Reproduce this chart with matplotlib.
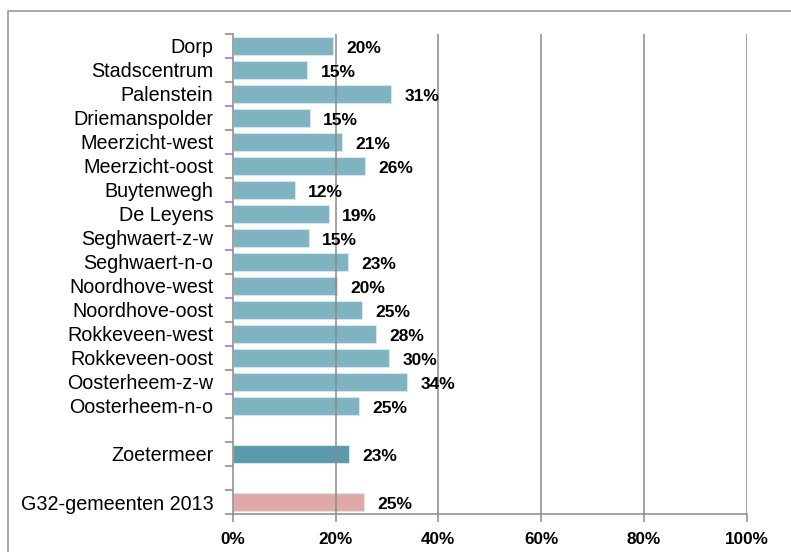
import matplotlib
matplotlib.use("Agg")
import matplotlib.pyplot as plt
from matplotlib.patches import Rectangle

plt.rcParams["font.family"] = ["Liberation Sans", "DejaVu Sans"]

# wijken, top to bottom; None = empty row
categories = [
    "Dorp", "Stadscentrum", "Palenstein", "Driemanspolder", "Meerzicht-west",
    "Meerzicht-oost", "Buytenwegh", "De Leyens", "Seghwaert-z-w", "Seghwaert-n-o",
    "Noordhove-west", "Noordhove-oost", "Rokkeveen-west", "Rokkeveen-oost",
    "Oosterheem-z-w", "Oosterheem-n-o", None, "Zoetermeer", None,
    "G32-gemeenten 2013",
]
values = [
    19.5, 14.5, 30.8, 15.0, 21.2, 25.7, 12.1, 18.7, 14.8, 22.5,
    20.3, 25.2, 27.8, 30.4, 33.9, 24.6, None, 22.6, None, 25.5,
]
value_labels = [
    "20%", "15%", "31%", "15%", "21%", "26%", "12%", "19%", "15%", "23%",
    "20%", "25%", "28%", "30%", "34%", "25%", None, "23%", None, "25%",
]
x_ticks = [0, 20, 40, 60, 80, 100]

C_WIJK = "#7fb3c2"
C_STAD = "#5b9bab"
C_G32 = "#e0a9a8"

fig = plt.figure(figsize=(7.91, 5.52), dpi=100)
ax = fig.add_axes([232.7 / 791, 1 - 514 / 552, 514 / 791, 480 / 552])

n = len(categories)
for i, (cat, v, lab) in enumerate(zip(categories, values, value_labels)):
    if v is None:
        continue
    if cat == "Zoetermeer":
        col = C_STAD
    elif cat.startswith("G32"):
        col = C_G32
    else:
        col = C_WIJK
    ax.barh(i, v, height=0.72, color=col, edgecolor="#d6e6ea", linewidth=0.8, zorder=1)
    ax.text(v + 2.6, i + 0.12, lab, ha="left", va="center", fontsize=12.5,
            fontweight="bold", zorder=3)

ax.set_xlim(0, 100)
ax.set_ylim(n - 0.5, -0.5)
ax.set_xticks(x_ticks)
ax.set_xticklabels([f"{t}%" for t in x_ticks], fontsize=12.3, fontweight="bold")
for t in x_ticks[1:]:
    ax.axvline(t, color="#8a8a8a", linewidth=1.1, zorder=2)

pos = [i for i, c in enumerate(categories) if c is not None]
ax.set_yticks(pos)
ax.set_yticklabels([categories[i] for i in pos], fontsize=14.2)
ax.tick_params(axis="y", length=0, pad=14)
ax.set_yticks([i - 0.5 for i in range(n + 1)], minor=True)
ax.tick_params(axis="y", which="minor", length=6, color="#8a8a8a", width=1.1)
ax.tick_params(axis="x", length=6, color="#8a8a8a", width=1.1, pad=7)

for s in ["top", "right"]:
    ax.spines[s].set_visible(False)
for s in ["left", "bottom"]:
    ax.spines[s].set_color("#8a8a8a")
    ax.spines[s].set_linewidth(1.1)

# chart area border, running off the right and bottom edges
fig.patches.append(Rectangle((7.5 / 791, -0.05), 1.1, 1 - 10.5 / 552 + 0.05,
                             transform=fig.transFigure, fill=False,
                             edgecolor="#999999", linewidth=1.2))

fig.savefig("out.png", dpi=100)
